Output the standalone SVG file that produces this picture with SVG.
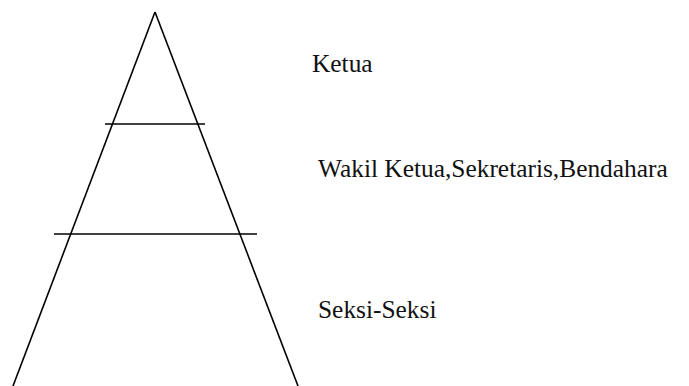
<svg xmlns="http://www.w3.org/2000/svg" width="689" height="386" viewBox="0 0 689 386">
<style>
.ln{stroke:#000;stroke-width:1.6;fill:none}
.lb{font-family:"Liberation Serif","Times New Roman",serif;font-size:25.4px;fill:#111}
</style>
<rect width="689" height="386" fill="#fff"/>
<g id="connectors">
<line class="ln" x1="155" y1="12" x2="13" y2="386"/>
<line class="ln" x1="155" y1="12" x2="298" y2="386"/>
<line class="ln" x1="105" y1="124" x2="205" y2="124"/>
<line class="ln" x1="54" y1="234" x2="257" y2="234"/>
</g>
<g id="ketua"><text class="lb" x="312" y="72">Ketua</text></g>
<g id="wakil"><text class="lb" x="318" y="177">Wakil Ketua,Sekretaris,Bendahara</text></g>
<g id="seksi"><text class="lb" x="318" y="318">Seksi-Seksi</text></g>
</svg>
